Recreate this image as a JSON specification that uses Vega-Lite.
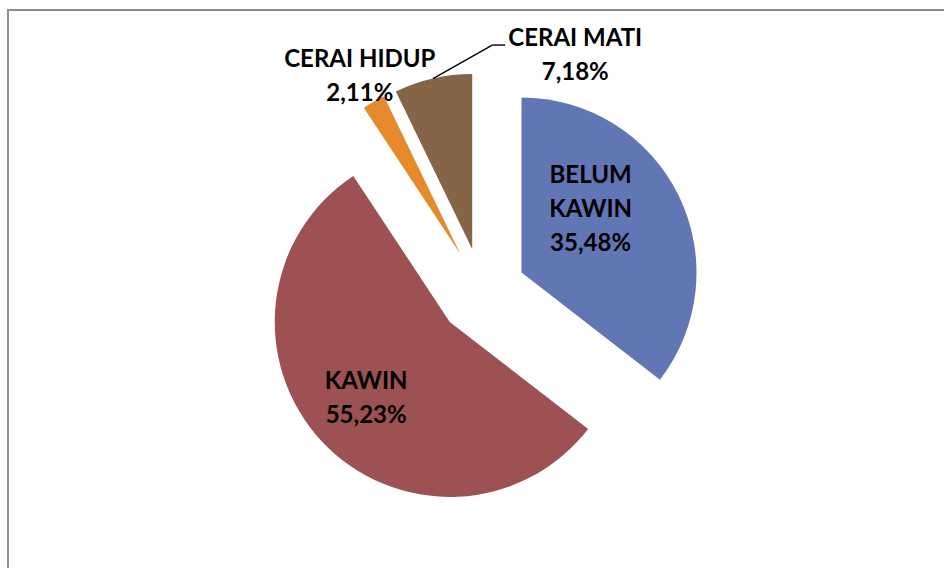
{
  "$schema": "https://vega.github.io/schema/vega-lite/v6.json",
  "width": 948,
  "height": 564,
  "autosize": {"type": "none"},
  "padding": {"left": 8, "top": 10, "right": 0, "bottom": 0},
  "background": "white",
  "view": {"stroke": "#8c8c8c", "strokeWidth": 2},
  "data": {
    "values": [
      {"status": "BELUM KAWIN", "persen": 35.48, "urut": 1},
      {"status": "KAWIN", "persen": 55.23, "urut": 2},
      {"status": "CERAI HIDUP", "persen": 2.11, "urut": 3},
      {"status": "CERAI MATI", "persen": 7.18, "urut": 4}
    ]
  },
  "transform": [
    {"window": [{"op": "sum", "field": "persen", "as": "akhir"}], "sort": [{"field": "urut"}], "frame": [null, 0]},
    {"calculate": "datum.akhir - datum.persen", "as": "awal"},
    {"calculate": "datum.awal + datum.persen / 2", "as": "tengah"},
    {"calculate": "datum.tengah * PI / 50", "as": "sudut"},
    {"calculate": "474 + 44 * sin(datum.sudut)", "as": "px"},
    {"calculate": "282 - 44 * cos(datum.sudut)", "as": "py"},
    {"calculate": "(datum.persen > 30 ? replace(datum.status, ' ', '\\n') : datum.status) + '\\n' + replace(format(datum.persen, '.2f'), '.', ',') + '%'", "as": "label"}
  ],
  "layer": [
    {
      "mark": {"type": "arc", "radius": 175},
      "encoding": {
        "theta": {"field": "awal", "type": "quantitative", "stack": null, "scale": {"domain": [0, 100], "range": [0, 6.283185307]}},
        "theta2": {"field": "akhir"},
        "x": {"field": "px", "type": "quantitative", "scale": null},
        "y": {"field": "py", "type": "quantitative", "scale": null},
        "color": {
          "field": "status",
          "type": "nominal",
          "scale": {"domain": ["BELUM KAWIN", "KAWIN", "CERAI HIDUP", "CERAI MATI"], "range": ["#6176b5", "#9d5152", "#e68a2b", "#856548"]},
          "legend": null
        }
      }
    },
    {
      "transform": [
        {"filter": "datum.status == 'CERAI MATI'"},
        {"calculate": "474 + 219 * sin(datum.sudut)", "as": "ax"},
        {"calculate": "282 - 219 * cos(datum.sudut)", "as": "ay"},
        {"calculate": "474 + 253.7 * sin(datum.sudut + 0.602) - 83", "as": "bx"},
        {"calculate": "282 - 253.7 * cos(datum.sudut + 0.602) - 11", "as": "by"},
        {"calculate": "datum.bx + 13", "as": "cx"}
      ],
      "layer": [
        {
          "mark": {"type": "rule", "color": "black", "strokeWidth": 1.4},
          "encoding": {
            "x": {"field": "ax", "type": "quantitative", "scale": null},
            "y": {"field": "ay", "type": "quantitative", "scale": null},
            "x2": {"field": "bx"},
            "y2": {"field": "by"}
          }
        },
        {
          "mark": {"type": "rule", "color": "black", "strokeWidth": 1.4},
          "encoding": {
            "x": {"field": "bx", "type": "quantitative", "scale": null},
            "y": {"field": "by", "type": "quantitative", "scale": null},
            "x2": {"field": "cx"},
            "y2": {"field": "by"}
          }
        }
      ]
    },
    {
      "transform": [{"filter": "datum.status == 'BELUM KAWIN'"}],
      "mark": {"type": "text", "radius": 136, "thetaOffset": -0.19, "dy": -34, "font": "Lato", "fontWeight": "bold", "fontSize": 24, "lineHeight": 34, "align": "center", "baseline": "middle", "lineBreak": "\n", "color": "black"},
      "encoding": {
        "theta": {"field": "tengah", "type": "quantitative", "stack": null},
        "text": {"field": "label"}
      }
    },
    {
      "transform": [{"filter": "datum.status == 'KAWIN'"}],
      "mark": {"type": "text", "radius": 158, "dy": -17, "font": "Lato", "fontWeight": "bold", "fontSize": 24, "lineHeight": 34, "align": "center", "baseline": "middle", "lineBreak": "\n", "color": "black"},
      "encoding": {
        "theta": {"field": "tengah", "type": "quantitative", "stack": null},
        "text": {"field": "label"}
      }
    },
    {
      "transform": [{"filter": "datum.status == 'CERAI HIDUP'"}],
      "mark": {"type": "text", "radius": 247, "dy": -17, "font": "Lato", "fontWeight": "bold", "fontSize": 24, "lineHeight": 34, "align": "center", "baseline": "middle", "lineBreak": "\n", "color": "black"},
      "encoding": {
        "theta": {"field": "tengah", "type": "quantitative", "stack": null},
        "text": {"field": "label"}
      }
    },
    {
      "transform": [{"filter": "datum.status == 'CERAI MATI'"}],
      "mark": {"type": "text", "radius": 253.7, "thetaOffset": 0.602, "dy": -17, "font": "Lato", "fontWeight": "bold", "fontSize": 24, "lineHeight": 34, "align": "center", "baseline": "middle", "lineBreak": "\n", "color": "black"},
      "encoding": {
        "theta": {"field": "tengah", "type": "quantitative", "stack": null},
        "text": {"field": "label"}
      }
    }
  ]
}
